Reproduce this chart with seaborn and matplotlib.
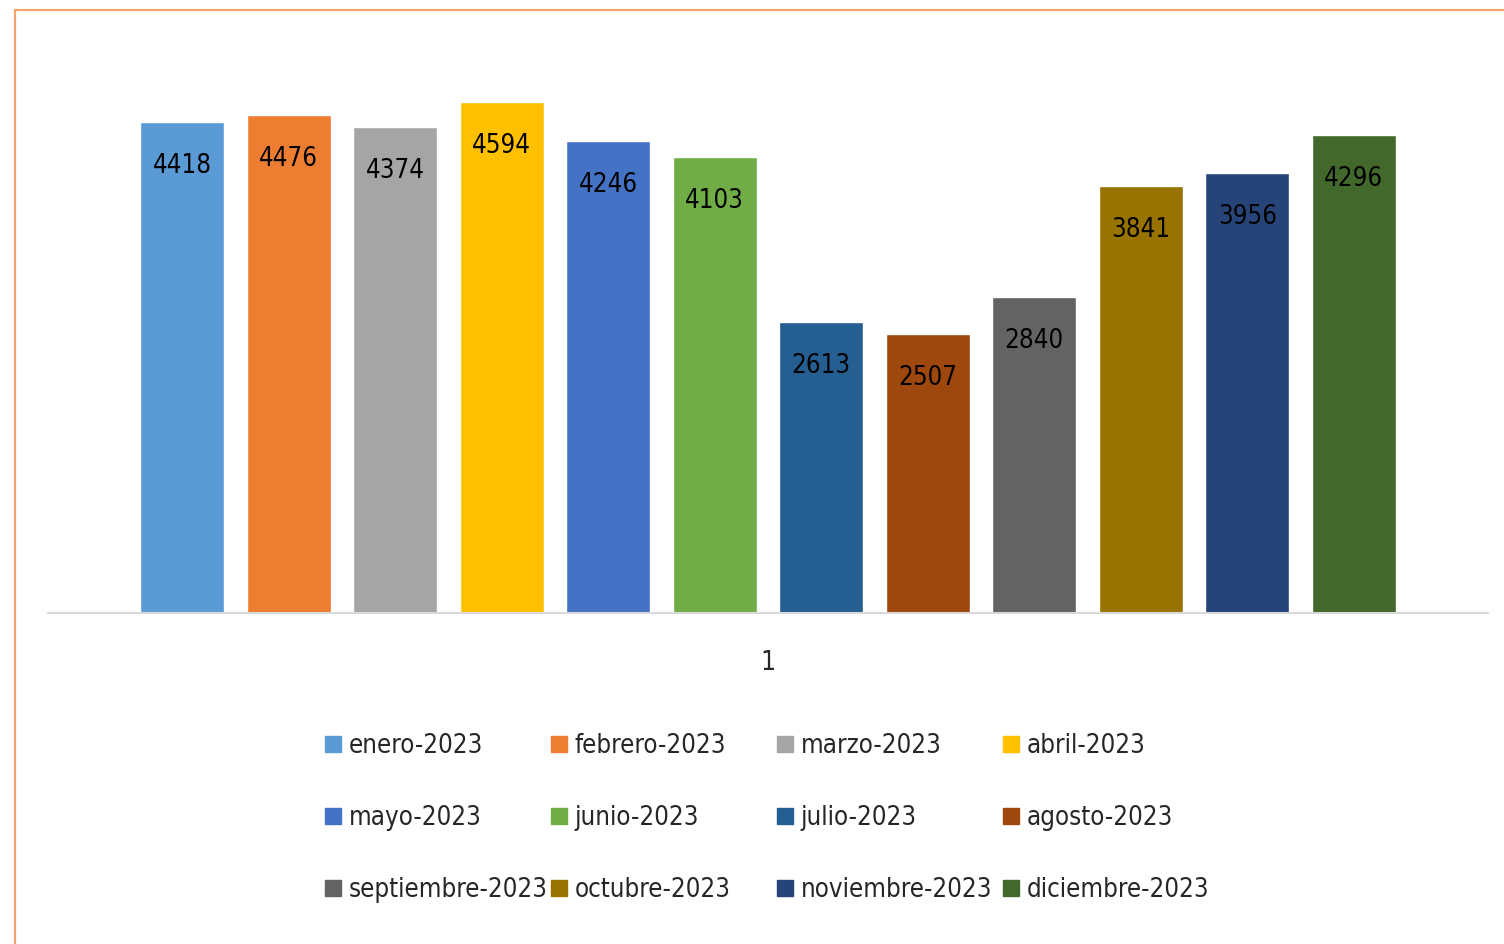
import matplotlib
matplotlib.use("Agg")
import matplotlib.pyplot as plt
from matplotlib.patches import Rectangle
import pandas as pd
import seaborn as sns

# datos del grafico
meses = ["enero-2023", "febrero-2023", "marzo-2023", "abril-2023",
         "mayo-2023", "junio-2023", "julio-2023", "agosto-2023",
         "septiembre-2023", "octubre-2023", "noviembre-2023", "diciembre-2023"]
valores = [4418, 4476, 4374, 4594, 4246, 4103, 2613, 2507, 2840, 3841, 3956, 4296]
categoria = ["1"] * len(meses)
colores = ["#5B9BD5", "#ED7D31", "#A5A5A5", "#FFC000", "#4472C4", "#70AD47",
           "#255E91", "#9E480E", "#636363", "#997300", "#264478", "#43682B"]

df = pd.DataFrame({"cat": categoria, "mes": meses, "valor": valores})

sns.set_style("white")
plt.rcParams["font.family"] = ["DejaVu Sans"]
plt.rcParams["font.stretch"] = "condensed"

W, H = 1504, 944
fig = plt.figure(figsize=(W / 100, H / 100), dpi=100)
ax = fig.add_axes([48 / W, (H - 613) / H, 1440 / W, (613 - 60) / H])

sns.barplot(data=df, x="cat", y="valor", hue="mes", hue_order=meses,
            palette=colores, width=0.8875, gap=0.21, ax=ax, legend=False,
            saturation=1)

ax.set_xlim(-0.5, 0.5)
ax.set_ylim(0, 553 / 0.1112)
ax.set_xlabel("")
ax.set_ylabel("")
ax.set_yticks([])
ax.tick_params(axis="x", length=0, labelsize=19, pad=26.5)
for s in ["top", "left", "right"]:
    ax.spines[s].set_visible(False)
ax.spines["bottom"].set_color("#D9D9D9")
ax.spines["bottom"].set_linewidth(1.5)

for cont in ax.containers:
    ax.bar_label(cont, padding=-41, fontsize=18.5, color="#000000")

# leyenda: 4 columnas de ancho fijo, como en Excel
handles = [Rectangle((0, 0), 1, 1, color=c) for c in colores]
col_x = [325, 551, 777, 1003]
for j in range(4):
    idx = [j, j + 4, j + 8]
    fig.legend([handles[i] for i in idx], [meses[i] for i in idx],
               loc="upper left", bbox_to_anchor=(col_x[j] / W, (H - 733) / H),
               frameon=False, fontsize=18.5, handlelength=0.62, handleheight=0.62,
               handletextpad=0.3, labelspacing=1.79, borderpad=0, borderaxespad=0)

# borde naranja del area del grafico
fig.add_artist(Rectangle((15 / W, -0.1), 2, (H - 10) / H + 0.1,
                         transform=fig.transFigure, fill=False,
                         edgecolor="#F4A46E", linewidth=1.6))

fig.savefig("out.png", dpi=100)
